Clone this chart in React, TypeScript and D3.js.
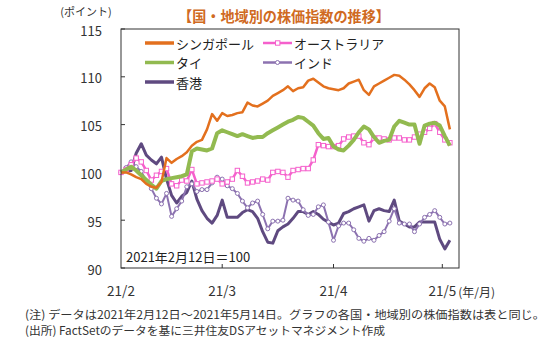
import React from "react";
import * as d3 from "d3";

const singapore = [100, 100, 99.8, 99.5, 99.3, 98.8, 98.5, 98.4, 99, 101.5, 101, 101.4, 101.7, 102.1, 102.8, 103.2, 103.4, 104.5, 106.1, 105.4, 106.2, 105.9, 106, 106.2, 106.3, 107.3, 107, 106.9, 107.2, 107.5, 108, 108.3, 108.6, 109, 108.5, 108.8, 108.9, 109.6, 109.8, 109.4, 109, 108.8, 108.7, 108.6, 108.8, 109.3, 109.5, 109.7, 108.6, 108.1, 109, 109.3, 109.6, 109.9, 110.2, 110.1, 109.7, 109.2, 108.6, 107.9, 108.8, 109.3, 108.9, 107.5, 106.9, 104.5];
const thailand = [100, 100.3, 100.6, 100.2, 99.7, 99.2, 98.7, 98.3, 99.1, 99.3, 99.4, 99.5, 99.6, 99.8, 102.2, 102.5, 102.4, 102.3, 102.5, 104.1, 104.4, 104.2, 104, 103.8, 104, 103.8, 103.6, 103.7, 103.7, 104.1, 104.4, 104.7, 105, 105.3, 105.5, 105.8, 105.7, 105.3, 104.9, 104.1, 103.5, 103.6, 102.7, 102.4, 102.3, 102.8, 103.4, 104.2, 104.8, 104.5, 103.7, 103.1, 103.3, 103.4, 104.8, 105.4, 105.2, 105, 105, 103, 104.9, 105.1, 105.2, 104.9, 103.8, 102.8];
const australia = [100, 100.3, 100.8, 101.5, 101.1, 100.2, 99.2, 99.7, 100.1, 100.4, 98.8, 98.6, 99.2, 99.1, 100.3, 98.8, 98.9, 99, 99.1, 99.3, 98.8, 99, 99.3, 100.2, 99.6, 98.9, 99, 99.1, 99.3, 99.2, 100, 100.1, 100, 99.5, 100.2, 100.3, 100.4, 100.4, 101.3, 102.9, 102.8, 102.7, 102.7, 102.8, 103.5, 103.7, 103.8, 103.8, 103.1, 102.9, 103.6, 103.6, 103.5, 103.4, 103.6, 103.6, 103.4, 103.4, 103.7, 104, 104.2, 104.6, 105.1, 104.2, 103.4, 103.1];
const india = [100, 100.5, 101.1, 100.6, 100.1, 99.1, 98.3, 97.3, 96.7, 97.8, 95.4, 96.2, 97, 98.5, 98.8, 98, 98.2, 98.2, 98.9, 99.5, 99.3, 98.6, 98.3, 97.8, 97, 96.3, 96.8, 97, 95.6, 94.1, 94.9, 94.9, 95, 97.3, 97.1, 97, 96.1, 95.5, 95.6, 96.4, 96.6, 94.8, 92.9, 94.4, 94.7, 94.7, 94, 93.1, 92.8, 93.1, 92.9, 93.4, 93.8, 94.9, 96.2, 94.7, 94.6, 94.6, 93.8, 94.6, 95.3, 95.6, 96, 95.3, 94.6, 94.7];
const hongkong = [100, 100.1, 100.2, 102, 103, 101.8, 101.3, 100.9, 101.6, 99.3, 97.6, 96.8, 97.5, 97.9, 99.1, 97.2, 96, 95.2, 94.7, 95.5, 97.1, 95.3, 95.3, 95.3, 95.8, 96.1, 95.9, 95.2, 93.8, 92.7, 92.6, 93.9, 94.3, 94.6, 95.2, 95.9, 95.9, 95.6, 95.9, 95.6, 95.1, 94.8, 94.5, 94.7, 95.7, 95.9, 96.2, 96.4, 96.6, 94.9, 96, 96.2, 96, 95.9, 97.1, 94.9, 94.6, 94.3, 94.3, 94.8, 94.8, 94.8, 94.8, 93, 92, 92.9];

const yTicks = [90, 95, 100, 105, 110, 115];
const xTickIdx = [0, 20, 42, 63.5];
const xTickLabels = ["21/2", "21/3", "21/4", "21/5"];

const L = 121, R = 459, T = 29, B = 268;
const FONT = "'Noto Sans CJK JP', 'Noto Sans', sans-serif";

export default function App() {
  const x = d3.scaleLinear().domain([0, 66.8]).range([L, R]);
  const y = d3.scaleLinear().domain([90, 115]).range([B, T]);
  const line = d3.line<number>().x((_, i) => x(i)).y((d) => y(d));

  const series = [
    { name: "香港", data: hongkong, color: "#5F4A80", w: 3, marker: null },
    { name: "インド", data: india, color: "#8C72B0", w: 2, marker: "circle" },
    { name: "オーストラリア", data: australia, color: "#F560CC", w: 2.5, marker: "square" },
    { name: "タイ", data: thailand, color: "#92BA50", w: 4, marker: null },
    { name: "シンガポール", data: singapore, color: "#E3701E", w: 2.5, marker: null },
  ];

  const legend = [
    { s: series[4], lx: 145, ly: 43 },
    { s: series[2], lx: 263, ly: 43 },
    { s: series[3], lx: 145, ly: 62.5 },
    { s: series[1], lx: 263, ly: 62.5 },
    { s: series[0], lx: 145, ly: 82 },
  ];

  return (
    <div style={{ position: "fixed", left: 0, top: 0 }}>
      <svg width={556} height={338} style={{ display: "block", background: "#fff" }} fontFamily={FONT}>
        <text x={178} y={15} dominantBaseline="central" fontSize={14.5} fontWeight="bold" fill="#D06A22" textLength={212} lengthAdjust="spacingAndGlyphs">【国・地域別の株価指数の推移】</text>
        <text x={86} y={11} textAnchor="middle" dominantBaseline="central" fontSize={11} fill="#333">(ポイント)</text>

        {yTicks.map((t) => (
          <g key={t}>
            <text x={102} y={y(t) + 1} textAnchor="end" dominantBaseline="central" fontSize={13} fill="#333">{t}</text>
            <line x1={L} x2={L + 4} y1={y(t)} y2={y(t)} stroke="#333" strokeWidth={1} />
          </g>
        ))}
        {xTickIdx.map((t, i) => (
          <g key={i}>
            {i > 0 && <line x1={x(t)} x2={x(t)} y1={B} y2={B - 4} stroke="#333" strokeWidth={1} />}
            <text x={x(t)} y={290} textAnchor="middle" dominantBaseline="central" fontSize={13.5} fill="#333">{xTickLabels[i]}</text>
          </g>
        ))}
        <text x={x(63.5) + 16} y={291} dominantBaseline="central" fontSize={12} fill="#333">(年/月)</text>

        {series.map((s) => (
          <g key={s.name}>
            <path d={line(s.data) || ""} fill="none" stroke={s.color} strokeWidth={s.w} strokeLinejoin="round" />
            {s.marker === "square" && s.data.map((d, i) => (
              <rect key={i} x={x(i) - 2.2} y={y(d) - 2.2} width={4.4} height={4.4} fill="#fff" stroke={s.color} strokeWidth={1} />
            ))}
            {s.marker === "circle" && s.data.map((d, i) => (
              <circle key={i} cx={x(i)} cy={y(d)} r={2} fill="#fff" stroke={s.color} strokeWidth={1} />
            ))}
          </g>
        ))}

        <rect x={L} y={T} width={R - L} height={B - T} fill="none" stroke="#333" strokeWidth={1} />

        {legend.map(({ s, lx, ly }) => (
          <g key={s.name}>
            <line x1={lx} x2={lx + 29} y1={ly} y2={ly} stroke={s.color} strokeWidth={s.marker ? 2.5 : 3.5} />
            {s.marker === "square" && <rect x={lx + 12.5} y={ly - 2.2} width={4.4} height={4.4} fill="#fff" stroke={s.color} strokeWidth={1} />}
            {s.marker === "circle" && <circle cx={lx + 14.5} cy={ly} r={2} fill="#fff" stroke={s.color} strokeWidth={1} />}
            <text x={lx + 31} y={ly} dominantBaseline="central" fontSize={13} fill="#222">{s.name}</text>
          </g>
        ))}

        <text x={126} y={256} dominantBaseline="central" fontSize={13} fill="#222">2021年2月12日＝100</text>

        <text x={25} y={314} dominantBaseline="central" fontSize={11.5} fill="#333" textLength={520} lengthAdjust="spacingAndGlyphs">(注) データは2021年2月12日～2021年5月14日。グラフの各国・地域別の株価指数は表と同じ。</text>
        <text x={25} y={330} dominantBaseline="central" fontSize={11.5} fill="#333" textLength={360} lengthAdjust="spacingAndGlyphs">(出所) FactSetのデータを基に三井住友DSアセットマネジメント作成</text>
      </svg>
    </div>
  );
}
